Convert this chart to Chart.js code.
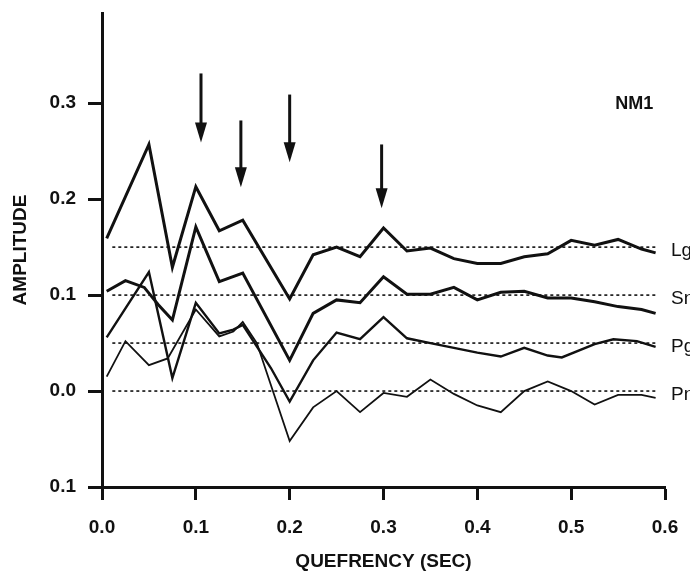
<!DOCTYPE html>
<html>
<head>
<meta charset="utf-8">
<script src="https://cdn.jsdelivr.net/npm/chart.js@4.4.1/dist/chart.umd.min.js"></script>
<style>
    html, body { margin: 0; padding: 0; background: #ffffff; }
    #wrap { width: 690px; height: 580px; position: relative; }
</style>
</head>
<body>
<div id="wrap"><canvas id="cepstrumChart"></canvas></div>
<script>
// quefrency (sec) / amplitude, one pair of arrays per phase
const lgX = [0.005, 0.05, 0.075, 0.1, 0.125, 0.15, 0.2, 0.225, 0.25, 0.275, 0.3, 0.325, 0.35, 0.375, 0.4, 0.425, 0.45, 0.475, 0.5, 0.525, 0.55, 0.575, 0.59];
const lgY = [0.159, 0.257, 0.129, 0.213, 0.167, 0.178, 0.096, 0.142, 0.150, 0.140, 0.170, 0.146, 0.149, 0.138, 0.133, 0.133, 0.140, 0.143, 0.157, 0.152, 0.158, 0.148, 0.144];

const snX = [0.005, 0.025, 0.045, 0.06, 0.075, 0.1, 0.125, 0.15, 0.2, 0.225, 0.25, 0.275, 0.3, 0.325, 0.35, 0.375, 0.4, 0.425, 0.45, 0.475, 0.5, 0.525, 0.55, 0.575, 0.59];
const snY = [0.104, 0.115, 0.108, 0.090, 0.074, 0.171, 0.114, 0.123, 0.032, 0.081, 0.095, 0.092, 0.119, 0.101, 0.101, 0.108, 0.095, 0.103, 0.104, 0.097, 0.097, 0.093, 0.088, 0.085, 0.081];

const pgX = [0.005, 0.05, 0.075, 0.1, 0.125, 0.14, 0.15, 0.18, 0.2, 0.225, 0.25, 0.275, 0.3, 0.325, 0.35, 0.375, 0.4, 0.425, 0.45, 0.475, 0.49, 0.525, 0.545, 0.57, 0.59];
const pgY = [0.056, 0.124, 0.0135, 0.092, 0.060, 0.064, 0.069, 0.024, -0.011, 0.032, 0.061, 0.054, 0.077, 0.055, 0.050, 0.045, 0.040, 0.036, 0.045, 0.037, 0.035, 0.049, 0.054, 0.052, 0.046];

const pnX = [0.005, 0.025, 0.05, 0.07, 0.1, 0.125, 0.14, 0.15, 0.165, 0.2, 0.225, 0.25, 0.275, 0.3, 0.325, 0.35, 0.375, 0.4, 0.425, 0.45, 0.475, 0.5, 0.525, 0.55, 0.575, 0.59];
const pnY = [0.015, 0.052, 0.027, 0.034, 0.085, 0.057, 0.062, 0.072, 0.050, -0.052, -0.017, 0.000, -0.022, -0.002, -0.006, 0.012, -0.003, -0.015, -0.022, 0.000, 0.010, 0.000, -0.014, -0.004, -0.004, -0.007];

const phaseNames = ['Lg', 'Sn', 'Pg', 'Pn'];
const baselineLevels = [0.15, 0.1, 0.05, 0.0];
const baselineSpan = [0.011, 0.59];

const xTickValues = [0, 0.1, 0.2, 0.3, 0.4, 0.5, 0.6];
const xTickLabels = ['0.0', '0.1', '0.2', '0.3', '0.4', '0.5', '0.6'];
const yTickValues = [-0.1, 0, 0.1, 0.2, 0.3];
const yTickLabels = ['0.1', '0.0', '0.1', '0.2', '0.3'];

// the four down arrows: quefrency, tail and tip amplitude
const arrowX = [0.1055, 0.148, 0.2, 0.298];
const arrowTail = [0.331, 0.282, 0.309, 0.257];
const arrowTip = [0.259, 0.2125, 0.2385, 0.1906];

const stationName = 'NM1';
const stationAt = [0.547, 0.299];

const FONT = "'Liberation Sans', Arial, sans-serif";
const INK = '#111111';

function points(xs, ys) {
    return xs.map((x, i) => ({ x, y: ys[i] }));
}

const traces = [
    { x: lgX, y: lgY, width: 3 },
    { x: snX, y: snY, width: 3 },
    { x: pgX, y: pgY, width: 2.4 },
    { x: pnX, y: pnY, width: 1.8 },
];

const datasets = [];

baselineLevels.forEach((level, i) => {
    datasets.push({
        label: phaseNames[i] + ' base',
        data: points(baselineSpan, [level, level]),
        borderColor: INK,
        borderWidth: 1.6,
        borderDash: [3, 3],
        pointRadius: 0,
        order: 2,
    });
});

traces.forEach((trace, i) => {
    datasets.push({
        label: phaseNames[i],
        data: points(trace.x, trace.y),
        borderColor: INK,
        borderWidth: trace.width,
        borderJoinStyle: 'miter',
        tension: 0,
        pointRadius: 0,
        order: 1,
    });
});

const annotations = {
    id: 'annotations',
    afterDraw(chart) {
        const { ctx, scales: { x, y }, chartArea } = chart;
        ctx.save();

        // arrows
        ctx.strokeStyle = INK;
        ctx.fillStyle = INK;
        arrowX.forEach((q, i) => {
            const px = x.getPixelForValue(q);
            const top = y.getPixelForValue(arrowTail[i]);
            const tip = y.getPixelForValue(arrowTip[i]);
            ctx.lineWidth = 3;
            ctx.beginPath();
            ctx.moveTo(px, top);
            ctx.lineTo(px, tip - 12);
            ctx.stroke();
            ctx.beginPath();
            ctx.moveTo(px - 6, tip - 20);
            ctx.lineTo(px + 6, tip - 20);
            ctx.lineTo(px, tip);
            ctx.closePath();
            ctx.fill();
        });

        // station name
        ctx.font = `bold 18px ${FONT}`;
        ctx.textAlign = 'left';
        ctx.textBaseline = 'middle';
        ctx.fillText(stationName, x.getPixelForValue(stationAt[0]), y.getPixelForValue(stationAt[1]));

        // phase names to the right of each baseline
        ctx.font = `19px ${FONT}`;
        phaseNames.forEach((name, i) => {
            ctx.fillText(name, chartArea.right + 6, y.getPixelForValue(baselineLevels[i]) + 4);
        });

        ctx.restore();
    },
};

new Chart(document.getElementById('cepstrumChart'), {
    type: 'line',
    data: { datasets },
    options: {
        responsive: true,
        maintainAspectRatio: false,
        animation: false,
        layout: {
            padding: { top: 13, right: 25, bottom: 0, left: 0 },
        },
        plugins: {
            legend: { display: false },
            tooltip: { enabled: false },
        },
        scales: {
            x: {
                type: 'linear',
                min: 0,
                max: 0.6,
                afterBuildTicks: (scale) => {
                    scale.ticks = xTickValues.map((value) => ({ value }));
                },
                afterFit: (scale) => {
                    scale.height = 93;
                    scale.paddingLeft = 0;
                    scale.paddingRight = 0;
                },
                ticks: {
                    autoSkip: false,
                    maxRotation: 0,
                    padding: 16,
                    color: INK,
                    font: { family: FONT, size: 19, weight: 'bold' },
                    callback: (value, index) => xTickLabels[index],
                },
                grid: {
                    drawOnChartArea: false,
                    drawTicks: true,
                    tickLength: 13,
                    tickWidth: 3,
                    tickColor: INK,
                },
                border: { display: true, width: 3, color: INK },
                title: {
                    display: true,
                    text: 'QUEFRENCY (SEC)',
                    color: INK,
                    font: { family: FONT, size: 19, weight: 'bold' },
                    padding: { top: 0, bottom: 7 },
                },
            },
            y: {
                type: 'linear',
                min: -0.1,
                max: 0.394,
                afterBuildTicks: (scale) => {
                    scale.ticks = yTickValues.map((value) => ({ value }));
                },
                afterFit: (scale) => {
                    scale.width = 102;
                    scale.paddingTop = 0;
                    scale.paddingBottom = 0;
                },
                ticks: {
                    autoSkip: false,
                    padding: 12,
                    color: INK,
                    font: { family: FONT, size: 19, weight: 'bold' },
                    callback: (value, index) => yTickLabels[index],
                },
                grid: {
                    drawOnChartArea: false,
                    drawTicks: true,
                    tickLength: 14,
                    tickWidth: 3,
                    tickColor: INK,
                },
                border: { display: true, width: 3, color: INK },
                title: {
                    display: true,
                    text: 'AMPLITUDE',
                    color: INK,
                    font: { family: FONT, size: 19, weight: 'bold' },
                    padding: { top: 9, bottom: 0 },
                },
            },
        },
    },
    plugins: [annotations],
});
</script>
</body>
</html>
